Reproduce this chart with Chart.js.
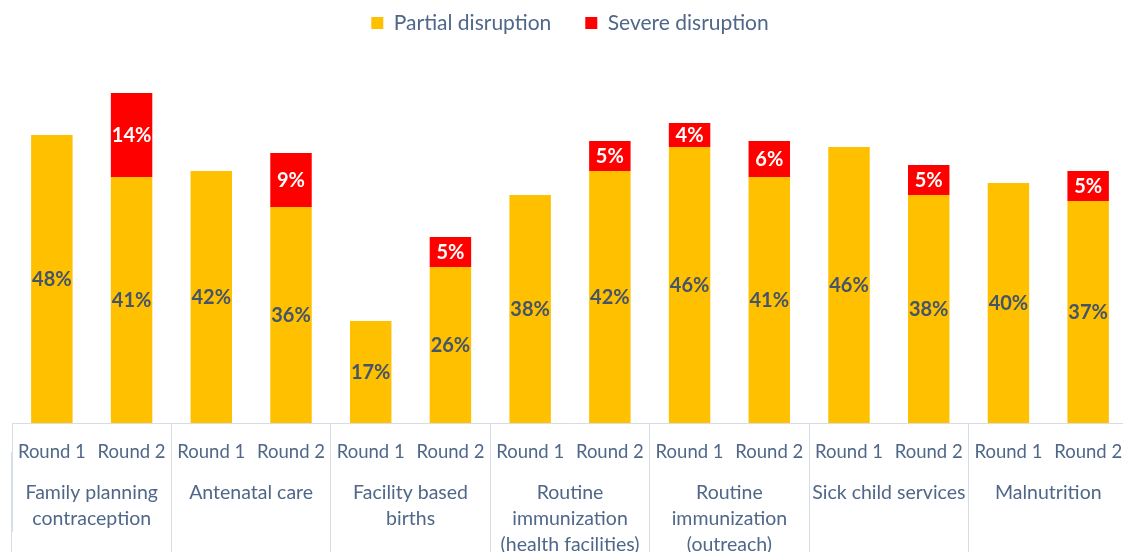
<!DOCTYPE html>
<html>
<head>
<meta charset="utf-8">
<script src="https://cdn.jsdelivr.net/npm/chart.js@4.4.1/dist/chart.umd.min.js"></script>
<style>
  html, body { margin: 0; padding: 0; background: #ffffff; overflow: hidden; }
  #wrap { width: 1130px; height: 560px; position: relative; }
</style>
</head>
<body>
<div id="wrap"><canvas id="c"></canvas></div>
<script>
const roundLabels = ['Round 1','Round 2','Round 1','Round 2','Round 1','Round 2','Round 1','Round 2','Round 1','Round 2','Round 1','Round 2','Round 1','Round 2'];
const groupLabels = [
  ['Family planning','contraception'],
  ['Antenatal care'],
  ['Facility based','births'],
  ['Routine','immunization','(health facilities)'],
  ['Routine','immunization','(outreach)'],
  ['Sick child services'],
  ['Malnutrition']
];
const partialDisruption = [48, 41, 42, 36, 17, 26, 38, 42, 46, 41, 46, 38, 40, 37];
const severeDisruption  = [null, 14, null, 9, null, 5, null, 5, 4, 6, null, 5, null, 5];

const FONT = 'Lato, "Open Sans", sans-serif';
const TEXT = '#4f6789';
const GRID = '#d6dde7';

const LEG_PAD = 34;
const PAD_TOP = 23 - LEG_PAD - 10.5;

const legendSpace = {
  id: 'legendSpace',
  beforeInit(chart) {
    const fit = chart.legend.fit;
    chart.legend.fit = function () { fit.call(this); this.height = 63 - PAD_TOP; };
  }
};

const valueLabels = {
  id: 'valueLabels',
  afterDatasetsDraw(chart) {
    const ctx = chart.ctx;
    ctx.save();
    ctx.textAlign = 'center';
    ctx.textBaseline = 'middle';
    ctx.font = 'bold 20px ' + FONT;
    chart.data.datasets.forEach((ds, di) => {
      const meta = chart.getDatasetMeta(di);
      meta.data.forEach((el, i) => {
        const v = ds.data[i];
        if (v === null || v === undefined) return;
        ctx.fillStyle = di === 0 ? '#44546a' : '#ffffff';
        ctx.fillText(v + '%', el.x, (el.y + el.base) / 2 + 1);
      });
    });
    ctx.restore();
  }
};

new Chart(document.getElementById('c'), {
  type: 'bar',
  data: {
    labels: roundLabels,
    datasets: [
      { label: 'Partial disruption', data: partialDisruption, backgroundColor: '#ffc000', barPercentage: 0.52, categoryPercentage: 1.0 },
      { label: 'Severe disruption', data: severeDisruption, backgroundColor: '#ff0000', barPercentage: 0.52, categoryPercentage: 1.0 }
    ]
  },
  options: {
    responsive: true,
    maintainAspectRatio: false,
    animation: false,
    layout: { padding: { left: 12, right: 2, top: PAD_TOP, bottom: 84 } },
    plugins: {
      legend: {
        position: 'top',
        align: 'center',
        labels: {
          boxWidth: 12, boxHeight: 12, padding: LEG_PAD,
          color: TEXT,
          font: { family: FONT, size: 21 }
        }
      },
      tooltip: { enabled: false }
    },
    scales: {
      y: { stacked: true, display: false, min: 0, max: 60 },
      x: {
        stacked: true,
        offset: true,
        border: { display: true, color: GRID, width: 1 },
        grid: {
          offset: true,
          drawOnChartArea: false,
          drawTicks: true,
          tickLength: 109.2,
          color: (c) => (c.index % 2 === 0 ? GRID : 'rgba(0,0,0,0)')
        },
        ticks: {
          mirror: true,
          color: TEXT, font: { family: FONT, size: 18.5, lineHeight: 1.2 },
          padding: -40.1, maxRotation: 0, autoSkip: false
        }
      },
      x2: {
        type: 'category',
        labels: groupLabels,
        position: 'bottom',
        offset: true,
        border: { display: false },
        grid: {
          offset: true,
          drawOnChartArea: false,
          drawTicks: true,
          tickLength: 132,
          color: GRID
        },
        ticks: {
          mirror: true,
          color: TEXT, font: { family: FONT, size: 19.5, lineHeight: 1.3333 },
          padding: -54, maxRotation: 0, autoSkip: false
        }
      }
    }
  },
  plugins: [legendSpace, valueLabels]
});
</script>
</body>
</html>
